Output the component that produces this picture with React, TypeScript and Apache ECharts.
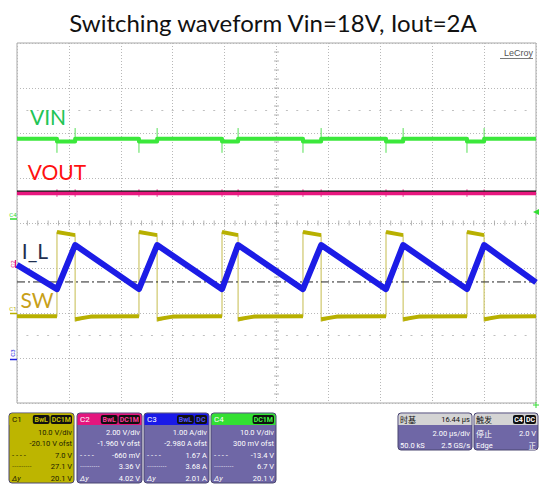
import React, { useEffect, useRef } from "react";
import * as echarts from "echarts";

const titleText = "Switching waveform Vin=18V, Iout=2A";
// switching edges, time in screen divisions (2 µs/div)
const riseTimes = [0.77, 2.35, 3.95, 5.51, 7.11, 8.67];
const fallTimes = [1.12, 2.7, 4.26, 5.86, 7.44, 9.0];
// levels in screen divisions (0 = bottom of graticule)
const vinLevels = [5.87, 5.81, 5.56, 6.11]; // normal, on-time dip, down spike, up spike
const voutLevels = [4.66, 4.58, 4.75, 4.71]; // level, spike low, spike high, reference line
const swLevels = [1.93, 3.8, 3.73, 1.82, 1.89]; // low, high start, high end, undershoot, after-fall
const ilLevels = [3.07, 2.53, 3.51, 2.68]; // start, valley, peak, end
const dashDotLevel = 2.69;

const chRows = [
  ["10.0 V/div", "-20.10 V ofst", "7.0 V", "27.1 V", "20.1 V"],
  ["2.00 V/div", "-1.960 V ofst", "-660 mV", "3.36 V", "4.02 V"],
  ["1.00 A/div", "-2.980 A ofst", "1.67 A", "3.68 A", "2.01 A"],
  ["10.0 V/div", "300 mV ofst", "-13.4 V", "6.7 V", "20.1 V"],
];
const chNames = ["C1", "C2", "C3", "C4"];
const chBadges = [["BwL", "DC1M"], ["BwL", "DC1M"], ["BwL", "DC"], ["DC1M"]];
const tbRows = ["时基", "16.44 µs", "2.00 µs/div", "50.0 kS", "2.5 GS/s"];
const trgRows = ["触发", "停止", "2.0 V", "Edge", "正"];

const BR = null as any;

function buildVin() {
  const d: any[] = [[0, vinLevels[0]]];
  riseTimes.forEach((r, i) => {
    const f = fallTimes[i];
    d.push([r, vinLevels[0]], [r, vinLevels[1]], [f, vinLevels[1]], [f, vinLevels[0]]);
  });
  d.push([10, vinLevels[0]]);
  return d;
}
function buildVinSpikes() {
  const d: any[] = [];
  riseTimes.forEach((r, i) => {
    const f = fallTimes[i];
    d.push([r, vinLevels[0]], [r, vinLevels[2]], [r, BR]);
    d.push([f, vinLevels[0]], [f, vinLevels[3]], [f, BR]);
  });
  return d;
}
function buildVoutSpikes() {
  const d: any[] = [];
  riseTimes.forEach((r, i) => {
    const f = fallTimes[i];
    d.push([r, voutLevels[1]], [r, voutLevels[2]], [r, BR]);
    d.push([f, voutLevels[1]], [f, voutLevels[2]], [f, BR]);
  });
  return d;
}
function buildSwThin() {
  const d: any[] = [[0, swLevels[0]]];
  riseTimes.forEach((r, i) => {
    const f = fallTimes[i];
    d.push([r, swLevels[0]], [r, swLevels[1]], [f, swLevels[2]], [f, swLevels[3]], [f + 0.2, swLevels[4]]);
  });
  d.push([10, swLevels[0]]);
  return d;
}
function buildSwThick() {
  const d: any[] = [[0, swLevels[0]], [riseTimes[0], swLevels[0]], [riseTimes[0], BR]];
  riseTimes.forEach((r, i) => {
    const f = fallTimes[i];
    const next = i + 1 < riseTimes.length ? riseTimes[i + 1] : 10;
    d.push([r, swLevels[1]], [f, swLevels[2]], [f, BR]);
    d.push([f, swLevels[4] - 0.03], [f + 0.3, swLevels[0] - 0.01], [next, swLevels[0]], [next, BR]);
  });
  return d;
}
function buildIl() {
  const d: any[] = [[0, ilLevels[0]]];
  riseTimes.forEach((r, i) => {
    d.push([r, ilLevels[1]], [fallTimes[i], ilLevels[2]]);
  });
  d.push([10, ilLevels[3]]);
  return d;
}

const GX = 17, GY = 43, GW = 519, GH = 360;

function txt(x: number, y: number, text: string, font: string, fill: string, align = "left", extra: any = {}) {
  return {
    type: "text",
    x,
    y,
    z: 100,
    style: { text, font, fill, textAlign: align, textVerticalAlign: "middle" },
    ...extra,
  };
}

const ROWF = "7.5px Roboto";
const ROWY = [432, 443.5, 455, 466.5, 478];

function chPanel(i: number, x: number, w: number) {
  const isC1 = i === 0;
  const bg = isC1 ? "#bdb500" : "#6f67a6";
  const headBg = ["#bdb500", "#e4157e", "#1a1ae8", "#33e033"][i];
  const badgeText = ["#c8c000", "#ff3a9a", "#5050ff", "#40ff40"][i];
  const fg = isC1 ? "#1c1c00" : "#ffffff";
  const y = 413, h = 70;
  const els: any[] = [
    { type: "rect", z: 90, shape: { x, y, width: w, height: h, r: 3 }, style: { fill: bg, stroke: "#4a4670", lineWidth: 1 } },
    { type: "rect", z: 91, shape: { x: x + 0.5, y: y + 0.5, width: w - 1, height: 11.5, r: [3, 3, 0, 0] }, style: { fill: headBg } },
    txt(x + 3, y + 6.5, chNames[i], "8px Roboto", isC1 ? "#1c1c00" : "#ffffff"),
  ];
  let bx = x + w - 2;
  const badges = chBadges[i].slice().reverse();
  badges.forEach((b) => {
    const bw = b.length * 4.6 + 3;
    bx -= bw;
    els.push({ type: "rect", z: 92, shape: { x: bx, y: y + 2, width: bw, height: 9, r: 2 }, style: { fill: "#101010" } });
    els.push(txt(bx + bw / 2, y + 6.6, b, "bold 7px Roboto", badgeText, "center"));
    bx -= 1;
  });
  const rows = chRows[i];
  rows.forEach((r, k) => els.push(txt(x + w - 2, ROWY[k], r, ROWF, fg, "right")));
  els.push(txt(x + 3, ROWY[2], "- - - -", ROWF, fg));
  els.push(txt(x + 3, ROWY[3], "··········", ROWF, fg));
  els.push(txt(x + 3, ROWY[4], "Δy", "italic 7.5px Roboto", fg));
  return els;
}

function smallPanel(x: number, w: number, rows: string[], isTrig: boolean) {
  const y = 413, h = 37;
  const fg = "#ffffff";
  const els: any[] = [
    { type: "rect", z: 90, shape: { x, y, width: w, height: h, r: 3 }, style: { fill: "#6f67a6", stroke: "#4a4670", lineWidth: 1 } },
    { type: "rect", z: 91, shape: { x: x + 0.5, y: y + 0.5, width: w - 1, height: 11.5, r: [3, 3, 0, 0] }, style: { fill: "#d4d4d4" } },
    txt(x + 2, y + 6.5, rows[0], "8px 'Noto Sans CJK SC'", "#111111"),
  ];
  if (!isTrig) {
    els.push(txt(x + w - 2, y + 6.5, rows[1], ROWF, "#111111", "right"));
    els.push(txt(x + w - 2, 433, rows[2], ROWF, fg, "right"));
    els.push(txt(x + 2, 445, rows[3], ROWF, fg));
    els.push(txt(x + w - 2, 445, rows[4], ROWF, fg, "right"));
  } else {
    els.push({ type: "rect", z: 92, shape: { x: x + w - 25, y: y + 2, width: 11, height: 9, r: 2 }, style: { fill: "#101010" } });
    els.push(txt(x + w - 19.5, y + 6.6, "C4", "bold 7px Roboto", "#ffffff", "center"));
    els.push({ type: "rect", z: 92, shape: { x: x + w - 13, y: y + 2, width: 11, height: 9, r: 2 }, style: { fill: "#101010" } });
    els.push(txt(x + w - 7.5, y + 6.6, "DC", "bold 7px Roboto", "#ffffff", "center"));
    els.push(txt(x + 2, 433, rows[1], "8px 'Noto Sans CJK SC'", fg));
    els.push(txt(x + w - 2, 433, rows[2], ROWF, fg, "right"));
    els.push(txt(x + 2, 445, rows[3], ROWF, fg));
    els.push(txt(x + w - 2, 445, rows[4], "7.5px 'Noto Sans CJK SC'", fg, "right"));
  }
  return els;
}

export default function App() {
  const ref = useRef<HTMLDivElement>(null);
  useEffect(() => {
    if (!ref.current) return;
    const chart = echarts.init(ref.current, undefined, { renderer: "svg" });

    const hTicks: any[] = [];
    const vTicks: any[] = [];
    const rowDots: any[] = [];
    for (let k = 1; k < 50; k++) {
      hTicks.push([k * 0.2, 4]);
      rowDots.push([k * 0.2, 1.5], [k * 0.2, 6.5]);
    }
    for (let k = 1; k < 40; k++) vTicks.push([5, k * 0.2]);

    const line = (name: string, data: any[], color: string, width: number, extra: any = {}) => ({
      type: "line",
      name,
      data,
      symbol: "none",
      silent: true,
      connectNulls: false,
      lineStyle: { color, width, join: "round", ...(extra.lineStyle || {}) },
      z: extra.z ?? 2,
    });

    const graphics: any[] = [
      txt(273, 22, titleText, "24px Lato", "#111111", "center"),
      txt(48, 116.5, "VIN", "21px Lato", "#22c455", "center"),
      txt(57, 171.5, "VOUT", "21px Lato", "#ff1010", "center"),
      txt(35, 250, "I_L", "21px Lato", "#1f2f4f", "center"),
      txt(37, 299.5, "SW", "21px Lato", "#c8a018", "center"),
      txt(533, 53, "LeCroy", "9px 'Liberation Sans'", "#555555", "right"),
      { type: "line", z: 100, shape: { x1: 500, y1: 58.5, x2: 533, y2: 58.5 }, style: { stroke: "#555555", lineWidth: 0.8 } },
      // channel markers
      txt(13, 214, "C4", "6px Roboto", "#33dd33", "center"),
      { type: "line", z: 100, shape: { x1: 10, y1: 219, x2: 17, y2: 219 }, style: { stroke: "#33dd33", lineWidth: 1.5 } },
      txt(12, 264, "C2", "6px Roboto", "#e4157e", "center", { rotation: Math.PI / 2 }),
      { type: "line", z: 100, shape: { x1: 15.5, y1: 260, x2: 15.5, y2: 268 }, style: { stroke: "#e4157e", lineWidth: 1 } },
      txt(13, 308, "C1", "6px Roboto", "#b8b000", "center"),
      { type: "line", z: 100, shape: { x1: 10, y1: 313.5, x2: 17, y2: 313.5 }, style: { stroke: "#b8b000", lineWidth: 1.5 } },
      txt(12, 353, "C3", "6px Roboto", "#2020e0", "center", { rotation: Math.PI / 2 }),
      { type: "line", z: 100, shape: { x1: 10, y1: 359.5, x2: 17, y2: 359.5 }, style: { stroke: "#2020e0", lineWidth: 1.5 } },
      { type: "polygon", z: 100, shape: { points: [[533, 212], [539, 209], [539, 215]] }, style: { fill: "#33dd33" } },
      { type: "line", z: 100, shape: { x1: 533, y1: 405, x2: 539, y2: 405 }, style: { stroke: "#33dd33", lineWidth: 1 } },
      { type: "line", z: 100, shape: { x1: 536, y1: 402, x2: 536, y2: 408 }, style: { stroke: "#33dd33", lineWidth: 1 } },
      ...chPanel(0, 9, 65),
      ...chPanel(1, 77, 65),
      ...chPanel(2, 144, 65),
      ...chPanel(3, 211, 65),
      ...smallPanel(398, 74, tbRows, false),
      ...smallPanel(474, 64, trgRows, true),
    ];

    chart.setOption({
      animation: false,
      backgroundColor: "#ffffff",
      grid: { left: GX, top: GY, width: GW, height: GH, show: true, borderColor: "#a8a8a8", borderWidth: 1, backgroundColor: "#ffffff" },
      xAxis: {
        type: "value",
        min: 0,
        max: 10,
        interval: 1,
        axisLine: { show: false },
        axisTick: { show: false },
        axisLabel: { show: false },
        splitLine: { show: true, lineStyle: { color: "#b8b8b8", type: [1, 2], width: 1 } },
      },
      yAxis: {
        type: "value",
        min: 0,
        max: 8,
        interval: 1,
        axisLine: { show: false },
        axisTick: { show: false },
        axisLabel: { show: false },
        splitLine: { show: true, lineStyle: { color: "#b8b8b8", type: [1, 2], width: 1 } },
      },
      series: [
        { type: "scatter", data: hTicks, symbol: "rect", symbolSize: [1, 5], itemStyle: { color: "#a0a0a0" }, silent: true, z: 1 },
        { type: "scatter", data: vTicks, symbol: "rect", symbolSize: [5, 1], itemStyle: { color: "#a0a0a0" }, silent: true, z: 1 },
        { type: "scatter", data: rowDots, symbol: "rect", symbolSize: [2, 1], itemStyle: { color: "#b0b0b0" }, silent: true, z: 1 },
        line("VIN spikes", buildVinSpikes(), "#55e055", 1),
        line("VIN", buildVin(), "#3be83b", 4),
        line("VOUT spikes", buildVoutSpikes(), "#e8509a", 1),
        line("VOUT", [[0, voutLevels[0]], [10, voutLevels[0]]], "#e8177f", 4),
        line("VOUT ref", [[0, voutLevels[3]], [10, voutLevels[3]]], "#111111", 1.2),
        line("SW edges", buildSwThin(), "#cfc76a", 1.2),
        line("SW", buildSwThick(), "#b8b000", 4),
        line("Trigger", [[0, dashDotLevel], [10, dashDotLevel]], "#222222", 1, { lineStyle: { type: [8, 3, 2, 3] } }),
        line("I_L", buildIl(), "#1c1ce6", 6, { z: 3 }),
      ],
      graphic: graphics,
    });
    return () => chart.dispose();
  }, []);
  return <div ref={ref} style={{ position: "absolute", left: 0, top: 0, width: 539, height: 485 }} />;
}
